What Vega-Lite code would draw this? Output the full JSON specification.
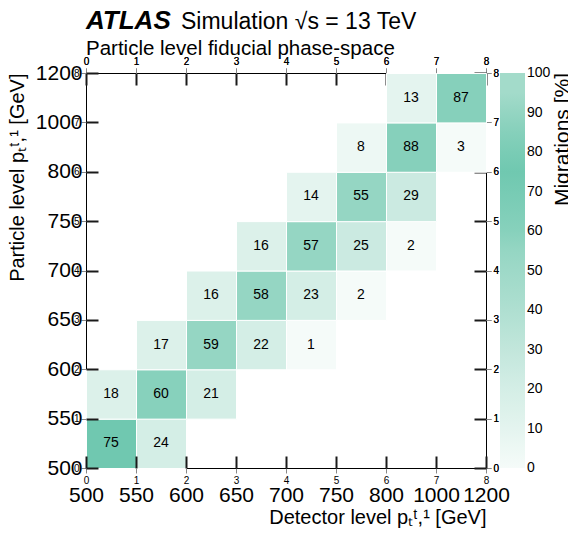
{
  "$schema": "https://vega.github.io/schema/vega-lite/v6.json",
  "width": 400,
  "height": 395,
  "autosize": {"type": "none"},
  "padding": {"left": 86, "top": 73, "right": 82, "bottom": 83},
  "background": "white",
  "config": {
    "font": "Liberation Sans",
    "view": {"stroke": "black", "strokeWidth": 1},
    "axis": {"grid": false, "domain": false, "labelColor": "black", "titleColor": "black", "titleFontWeight": "normal", "labelOverlap": false, "labelFlush": false}
  },
  "data": {"values": [
    {"d": 0, "d2": 1, "p": 0, "p2": 1, "v": 75},
    {"d": 1, "d2": 2, "p": 0, "p2": 1, "v": 24},
    {"d": 0, "d2": 1, "p": 1, "p2": 2, "v": 18},
    {"d": 1, "d2": 2, "p": 1, "p2": 2, "v": 60},
    {"d": 2, "d2": 3, "p": 1, "p2": 2, "v": 21},
    {"d": 1, "d2": 2, "p": 2, "p2": 3, "v": 17},
    {"d": 2, "d2": 3, "p": 2, "p2": 3, "v": 59},
    {"d": 3, "d2": 4, "p": 2, "p2": 3, "v": 22},
    {"d": 4, "d2": 5, "p": 2, "p2": 3, "v": 1},
    {"d": 2, "d2": 3, "p": 3, "p2": 4, "v": 16},
    {"d": 3, "d2": 4, "p": 3, "p2": 4, "v": 58},
    {"d": 4, "d2": 5, "p": 3, "p2": 4, "v": 23},
    {"d": 5, "d2": 6, "p": 3, "p2": 4, "v": 2},
    {"d": 3, "d2": 4, "p": 4, "p2": 5, "v": 16},
    {"d": 4, "d2": 5, "p": 4, "p2": 5, "v": 57},
    {"d": 5, "d2": 6, "p": 4, "p2": 5, "v": 25},
    {"d": 6, "d2": 7, "p": 4, "p2": 5, "v": 2},
    {"d": 4, "d2": 5, "p": 5, "p2": 6, "v": 14},
    {"d": 5, "d2": 6, "p": 5, "p2": 6, "v": 55},
    {"d": 6, "d2": 7, "p": 5, "p2": 6, "v": 29},
    {"d": 5, "d2": 6, "p": 6, "p2": 7, "v": 8},
    {"d": 6, "d2": 7, "p": 6, "p2": 7, "v": 88},
    {"d": 7, "d2": 8, "p": 6, "p2": 7, "v": 3},
    {"d": 6, "d2": 7, "p": 7, "p2": 8, "v": 13},
    {"d": 7, "d2": 8, "p": 7, "p2": 8, "v": 87}
  ]},
  "layer": [
    {
      "mark": {"type": "rect", "stroke": "white", "strokeWidth": 1},
      "encoding": {
        "x": {"field": "d", "type": "quantitative", "bin": {"binned": true},
          "scale": {"domain": [0, 8], "nice": false, "zero": false},
          "axis": {"orient": "bottom", "values": [0, 1, 2, 3, 4, 5, 6, 7, 8],
            "labelExpr": "['500','550','600','650','700','750','800','1000','1200'][datum.value]",
            "offset": -12, "ticks": true, "tickSize": 12, "tickColor": "#1a1a1a", "tickWidth": 2, "labelFontSize": 21, "labelPadding": 16,
            "title": "Detector level pₜᵗ,¹ [GeV]", "titleFontSize": 20, "titleAnchor": "end", "titlePadding": 2}},
        "x2": {"field": "d2"},
        "y": {"field": "p", "type": "quantitative", "bin": {"binned": true},
          "scale": {"domain": [0, 8], "nice": false, "zero": false},
          "axis": {"orient": "left", "values": [0, 1, 2, 3, 4, 5, 6, 7, 8],
            "labelExpr": "['500','550','600','650','700','750','800','1000','1200'][datum.value]",
            "offset": -12, "ticks": true, "tickSize": 12, "tickColor": "#1a1a1a", "tickWidth": 2, "labelFontSize": 21, "labelPadding": 4,
            "title": "Particle level pₜᵗ,¹ [GeV]", "titleFontSize": 20, "titleAnchor": "end", "titlePadding": 8}},
        "y2": {"field": "p2"},
        "color": {"field": "v", "type": "quantitative",
          "scale": {"type": "linear",
            "domain": [0, 5, 5, 10, 10, 15, 15, 20, 20, 25, 25, 30, 30, 35, 35, 40, 40, 45, 45, 50, 50, 55, 55, 60, 60, 65, 65, 70, 70, 75, 75, 80, 80, 85, 85, 90, 90, 95, 95, 100],
            "range": ["#f5fbf9", "#f5fbf9", "#edf8f4", "#edf8f4", "#e4f4ef", "#e4f4ef", "#dcf1ea", "#dcf1ea", "#d4eee6", "#d4eee6", "#cbeae1", "#cbeae1", "#c2e6db", "#c2e6db", "#b8e3d6", "#b8e3d6", "#afdfd1", "#afdfd1", "#a6dccc", "#a6dccc", "#9ed9c8", "#9ed9c8", "#95d6c3", "#95d6c3", "#87d1bc", "#87d1bc", "#7fceb8", "#7fceb8", "#77cbb4", "#77cbb4", "#70c8b0", "#70c8b0", "#7accb5", "#7accb5", "#86d0bb", "#86d0bb", "#94d5c2", "#94d5c2", "#a3dbca", "#a3dbca"]},
          "legend": {"type": "gradient", "direction": "vertical", "orient": "right", "offset": 1,
            "gradientLength": 395, "gradientThickness": 25, "gradientStrokeWidth": 0,
            "values": [0, 10, 20, 30, 40, 50, 60, 70, 80, 90, 100],
            "labelFontSize": 14, "labelColor": "black", "labelOffset": 2, "labelOverlap": false,
            "title": "Migrations [%]", "titleOrient": "right", "titleAnchor": "end",
            "titleFontSize": 21, "titleFontWeight": "normal", "titleColor": "black", "titlePadding": 2,
            "encode": {
              "labels": {"update": {"baseline": {"value": "middle"}}},
              "title": {"update": {"angle": {"value": 270}, "align": {"value": "right"}, "baseline": {"value": "top"}}}}}}
      }
    },
    {
      "mark": {"type": "text", "fontSize": 14, "color": "black", "dx": 25, "dy": -24.7},
      "encoding": {
        "x": {"field": "d", "type": "quantitative",
          "scale": {"domain": [0, 8], "nice": false, "zero": false},
          "axis": {"orient": "top", "values": [0, 1, 2, 3, 4, 5, 6, 7, 8], "labels": false, "offset": -12, "ticks": true, "tickSize": 12, "tickColor": "#1a1a1a", "tickWidth": 2, "title": null}},
        "y": {"field": "p", "type": "quantitative",
          "scale": {"domain": [0, 8], "nice": false, "zero": false},
          "axis": {"orient": "right", "values": [0, 1, 2, 3, 4, 5, 6, 7, 8], "labels": false, "offset": -12, "ticks": true, "tickSize": 12, "tickColor": "#1a1a1a", "tickWidth": 2, "title": null}},
        "text": {"field": "v", "type": "quantitative"}
      }
    },
    {
      "data": {"values": [{"t": "ATLAS"}]},
      "mark": {"type": "text", "fontSize": 26, "fontWeight": "bold", "fontStyle": "italic", "align": "left", "baseline": "alphabetic", "clip": false, "color": "black"},
      "encoding": {
        "x": {"datum": 0, "type": "quantitative", "scale": {"domain": [0, 8], "nice": false, "zero": false}},
        "y": {"datum": 8.9, "type": "quantitative", "scale": {"domain": [0, 8], "nice": false, "zero": false}},
        "text": {"field": "t"}
      }
    },
    {
      "data": {"values": [{"t": "Simulation √s = 13 TeV"}]},
      "mark": {"type": "text", "fontSize": 23, "align": "left", "baseline": "alphabetic", "clip": false, "color": "black"},
      "encoding": {
        "x": {"datum": 1.9, "type": "quantitative", "scale": {"domain": [0, 8], "nice": false, "zero": false}},
        "y": {"datum": 8.9, "type": "quantitative", "scale": {"domain": [0, 8], "nice": false, "zero": false}},
        "text": {"field": "t"}
      }
    },
    {
      "data": {"values": [{"t": "Particle level fiducial phase-space"}]},
      "mark": {"type": "text", "fontSize": 20.5, "align": "left", "baseline": "alphabetic", "clip": false, "color": "black"},
      "encoding": {
        "x": {"datum": 0, "type": "quantitative", "scale": {"domain": [0, 8], "nice": false, "zero": false}},
        "y": {"datum": 8.365, "type": "quantitative", "scale": {"domain": [0, 8], "nice": false, "zero": false}},
        "text": {"field": "t"}
      }
    }
  ],
  "resolve": {"axis": {"x": "shared", "y": "shared"}}
}
